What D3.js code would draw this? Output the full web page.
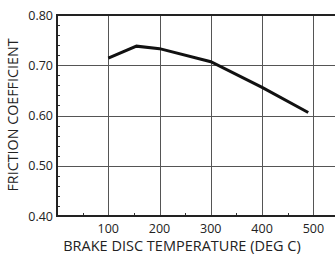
<!DOCTYPE html>
<html lang="en">
<head>
    <meta charset="UTF-8">
    <title>Friction coefficient vs brake disc temperature</title>
    <script src="https://d3js.org/d3.v7.min.js"></script>
    <style>
        body { margin: 0; background: #fff; overflow: hidden; }
        svg { display: block; }
        text { font-family: "Open Sans", sans-serif; fill: #222; }
    </style>
</head>
<body>
    <script>
        // data
        const temps = [100, 155, 200, 300, 400, 490];
        const friction = [0.714, 0.738, 0.733, 0.707, 0.656, 0.606];
        const xTicks = [100, 200, 300, 400, 500];
        const yTicks = [0.40, 0.50, 0.60, 0.70, 0.80];

        const width = 335, height = 258;
        const margin = { top: 15, right: -4, bottom: 42, left: 57 };

        const svg = d3.select("body").append("svg")
            .attr("width", width)
            .attr("height", height);

        const x = d3.scaleLinear().domain([0, 550])
            .range([margin.left, width - margin.right]);
        const y = d3.scaleLinear().domain([0.40, 0.80])
            .range([height - margin.bottom, margin.top]);

        // grid
        svg.append("g").selectAll("line")
            .data(xTicks)
            .join("line")
            .attr("x1", d => Math.round(x(d)) + 0.5).attr("x2", d => Math.round(x(d)) + 0.5)
            .attr("y1", y(0.80)).attr("y2", y(0.40))
            .attr("stroke", "#555").attr("stroke-width", 1);

        svg.append("g").selectAll("line")
            .data(yTicks.slice(1, -1))
            .join("line")
            .attr("x1", x(0)).attr("x2", width)
            .attr("y1", d => Math.round(y(d)) + 0.5).attr("y2", d => Math.round(y(d)) + 0.5)
            .attr("stroke", "#555").attr("stroke-width", 1);

        // minor ticks (inward)
        const yMinor = d3.range(0.42, 0.80, 0.02).filter(v => Math.abs(v * 10 - Math.round(v * 10)) > 0.01);
        svg.append("g").selectAll("line")
            .data(yMinor)
            .join("line")
            .attr("x1", x(0)).attr("x2", x(0) + 3)
            .attr("y1", d => Math.round(y(d)) + 0.5).attr("y2", d => Math.round(y(d)) + 0.5)
            .attr("stroke", "#333");

        const xMinor = [50, 150, 250, 350, 450];
        svg.append("g").selectAll("line")
            .data(xMinor)
            .join("line")
            .attr("x1", d => Math.round(x(d)) + 0.5).attr("x2", d => Math.round(x(d)) + 0.5)
            .attr("y1", y(0.40)).attr("y2", y(0.40) - 3)
            .attr("stroke", "#333");

        // frame: top, left, bottom
        svg.append("path")
            .attr("d", `M${width},${y(0.80)}H${x(0)}V${y(0.40)}H${width}`)
            .attr("fill", "none")
            .attr("stroke", "#222")
            .attr("stroke-width", 2);

        // tick labels
        svg.append("g").selectAll("text")
            .data(yTicks)
            .join("text")
            .attr("x", x(0) - 4)
            .attr("y", d => y(d) + 4.5)
            .attr("text-anchor", "end")
            .attr("font-size", 12.5)
            .text(d => d.toFixed(2));

        svg.append("g").selectAll("text")
            .data(xTicks)
            .join("text")
            .attr("x", d => x(d))
            .attr("y", y(0.40) + 17)
            .attr("text-anchor", "middle")
            .attr("font-size", 12.5)
            .text(d => d);

        // axis titles
        svg.append("text")
            .attr("x", 182)
            .attr("y", 251)
            .attr("text-anchor", "middle")
            .attr("font-size", 14.5)
            .text("BRAKE DISC TEMPERATURE (DEG C)");

        svg.append("text")
            .attr("transform", "translate(18,115) rotate(-90)")
            .attr("text-anchor", "middle")
            .attr("font-size", 14.3)
            .text("FRICTION COEFFICIENT");

        // data line
        const line = d3.line()
            .x((d, i) => x(temps[i]))
            .y(d => y(d));

        svg.append("path")
            .datum(friction)
            .attr("d", line)
            .attr("fill", "none")
            .attr("stroke", "#111")
            .attr("stroke-width", 3)
            .attr("stroke-linejoin", "miter");
    </script>
</body>
</html>
